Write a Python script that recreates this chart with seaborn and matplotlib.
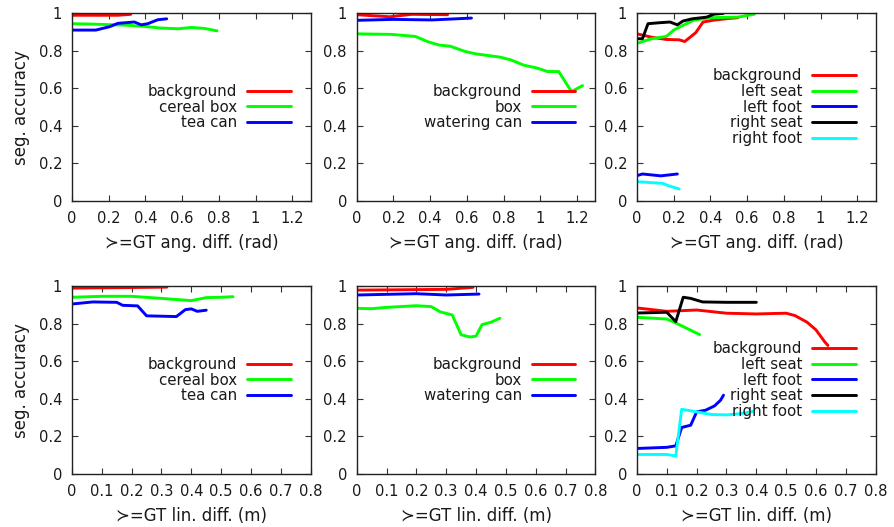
import numpy as np
import pandas as pd
import matplotlib
matplotlib.use("Agg")
import matplotlib.pyplot as plt
import seaborn as sns

# ---- angular difference (rad), object 1 ----
a1_bg_x = [0, 0.15, 0.25, 0.32]
a1_bg_y = [0.99, 0.99, 0.99, 0.995]
a1_cereal_x = [0, 0.1, 0.2, 0.3, 0.4, 0.48, 0.58, 0.65, 0.72, 0.79]
a1_cereal_y = [0.945, 0.943, 0.94, 0.937, 0.93, 0.922, 0.918, 0.925, 0.92, 0.907]
a1_tea_x = [0, 0.13, 0.205, 0.25, 0.34, 0.377, 0.413, 0.467, 0.516]
a1_tea_y = [0.911, 0.911, 0.929, 0.947, 0.954, 0.939, 0.945, 0.966, 0.971]

# ---- angular difference (rad), object 2 ----
a2_bg_x = [0, 0.18, 0.3, 0.495]
a2_bg_y = [0.993, 0.982, 0.995, 0.993]
a2_box_x = [0, 0.19, 0.32, 0.39, 0.45, 0.51, 0.59, 0.65, 0.78, 0.84, 0.91, 0.98, 1.04, 1.1, 1.17, 1.23]
a2_box_y = [0.891, 0.888, 0.877, 0.848, 0.831, 0.825, 0.797, 0.784, 0.767, 0.752, 0.724, 0.709, 0.69, 0.69, 0.583, 0.615]
a2_water_x = [0, 0.2, 0.41, 0.625]
a2_water_y = [0.963, 0.968, 0.965, 0.975]

# ---- angular difference (rad), object 3 ----
a3_bg_x = [0, 0.08, 0.16, 0.23, 0.26, 0.32, 0.36, 0.42, 0.5, 0.55]
a3_bg_y = [0.891, 0.873, 0.861, 0.859, 0.85, 0.897, 0.954, 0.964, 0.973, 0.977]
a3_lseat_x = [0, 0.08, 0.16, 0.2, 0.25, 0.31, 0.4, 0.55, 0.64]
a3_lseat_y = [0.84, 0.865, 0.877, 0.911, 0.936, 0.964, 0.977, 0.98, 0.996]
a3_lfoot_x = [0, 0.03, 0.13, 0.22]
a3_lfoot_y = [0.135, 0.144, 0.134, 0.144]
a3_rseat_x = [0, 0.03, 0.06, 0.12, 0.18, 0.22, 0.25, 0.3, 0.38, 0.42, 0.47]
a3_rseat_y = [0.865, 0.865, 0.945, 0.95, 0.954, 0.939, 0.959, 0.971, 0.98, 0.996, 1.0]
a3_rfoot_x = [0, 0.14, 0.17, 0.23]
a3_rfoot_y = [0.103, 0.094, 0.082, 0.064]

# ---- linear difference (m), object 1 ----
l1_bg_x = [0, 0.15, 0.318]
l1_bg_y = [0.991, 0.993, 0.996]
l1_cereal_x = [0, 0.1, 0.2, 0.3, 0.4, 0.45, 0.5, 0.54]
l1_cereal_y = [0.942, 0.947, 0.947, 0.936, 0.924, 0.94, 0.942, 0.945]
l1_tea_x = [0, 0.07, 0.15, 0.17, 0.22, 0.25, 0.35, 0.38, 0.4, 0.42, 0.45]
l1_tea_y = [0.906, 0.917, 0.915, 0.899, 0.896, 0.843, 0.839, 0.876, 0.88, 0.867, 0.873]

# ---- linear difference (m), object 2 ----
l2_bg_x = [0, 0.3, 0.39]
l2_bg_y = [0.98, 0.984, 0.995]
l2_box_x = [0, 0.05, 0.1, 0.2, 0.25, 0.28, 0.32, 0.35, 0.38, 0.4, 0.42, 0.45, 0.48]
l2_box_y = [0.883, 0.881, 0.888, 0.897, 0.892, 0.864, 0.848, 0.742, 0.73, 0.735, 0.796, 0.809, 0.83]
l2_water_x = [0, 0.2, 0.3, 0.41]
l2_water_y = [0.954, 0.961, 0.954, 0.959]

# ---- linear difference (m), object 3 ----
l3_bg_x = [0, 0.1, 0.2, 0.3, 0.4, 0.5, 0.53, 0.57, 0.6, 0.63, 0.64]
l3_bg_y = [0.885, 0.867, 0.874, 0.857, 0.853, 0.857, 0.844, 0.809, 0.768, 0.703, 0.685]
l3_lseat_x = [0, 0.1, 0.13, 0.21]
l3_lseat_y = [0.835, 0.826, 0.805, 0.743]
l3_lfoot_x = [0, 0.1, 0.13, 0.15, 0.18, 0.2, 0.23, 0.26, 0.28, 0.29]
l3_lfoot_y = [0.136, 0.142, 0.15, 0.248, 0.26, 0.331, 0.34, 0.363, 0.393, 0.42]
l3_rseat_x = [0, 0.1, 0.13, 0.155, 0.18, 0.22, 0.3, 0.4]
l3_rseat_y = [0.858, 0.862, 0.812, 0.942, 0.936, 0.917, 0.915, 0.915]
l3_rfoot_x = [0, 0.1, 0.13, 0.15, 0.2, 0.25, 0.3, 0.35, 0.39]
l3_rfoot_y = [0.104, 0.104, 0.096, 0.345, 0.331, 0.317, 0.315, 0.322, 0.334]

RED, GREEN, BLUE, BLACK, CYAN = "#ff0000", "#00ff00", "#0000ff", "#000000", "#00ffff"

panels = [
    [("background", a1_bg_x, a1_bg_y, RED), ("cereal box", a1_cereal_x, a1_cereal_y, GREEN),
     ("tea can", a1_tea_x, a1_tea_y, BLUE)],
    [("background", a2_bg_x, a2_bg_y, RED), ("box", a2_box_x, a2_box_y, GREEN),
     ("watering can", a2_water_x, a2_water_y, BLUE)],
    [("background", a3_bg_x, a3_bg_y, RED), ("left seat", a3_lseat_x, a3_lseat_y, GREEN),
     ("left foot", a3_lfoot_x, a3_lfoot_y, BLUE), ("right seat", a3_rseat_x, a3_rseat_y, BLACK),
     ("right foot", a3_rfoot_x, a3_rfoot_y, CYAN)],
    [("background", l1_bg_x, l1_bg_y, RED), ("cereal box", l1_cereal_x, l1_cereal_y, GREEN),
     ("tea can", l1_tea_x, l1_tea_y, BLUE)],
    [("background", l2_bg_x, l2_bg_y, RED), ("box", l2_box_x, l2_box_y, GREEN),
     ("watering can", l2_water_x, l2_water_y, BLUE)],
    [("background", l3_bg_x, l3_bg_y, RED), ("left seat", l3_lseat_x, l3_lseat_y, GREEN),
     ("left foot", l3_lfoot_x, l3_lfoot_y, BLUE), ("right seat", l3_rseat_x, l3_rseat_y, BLACK),
     ("right foot", l3_rfoot_x, l3_rfoot_y, CYAN)],
]

sns.set_theme(style="ticks")
plt.rcParams["font.family"] = ["DejaVu Sans"]
plt.rcParams["font.size"] = 10.6
txt = "#1a1a1a"
plt.rcParams.update({"text.color": txt, "axes.labelcolor": txt,
                     "xtick.labelcolor": txt, "ytick.labelcolor": txt})

fig = plt.figure(figsize=(8.94, 5.27), dpi=100)
lefts = [0.0805, 0.399, 0.7125]
bottoms = [0.6186, 0.1006]
w, h = 0.267, 0.356

for i, series in enumerate(panels):
    row, col = divmod(i, 3)
    ax = fig.add_axes([lefts[col], bottoms[row], w, h])
    for name, xs, ys, color in series:
        df = pd.DataFrame({"x": xs, "y": ys})
        sns.lineplot(data=df, x="x", y="y", ax=ax, color=color, linewidth=2.1,
                     label=name, sort=False, estimator=None)
    if row == 0:
        ax.set_xlim(0, 1.3)
        ax.set_xticks(np.arange(0, 1.21, 0.2))
        ax.set_xlabel("\u227b=GT ang. diff. (rad)", labelpad=6)
    else:
        ax.set_xlim(0, 0.8)
        ax.set_xticks(np.arange(0, 0.81, 0.1))
        ax.set_xlabel("\u227b=GT lin. diff. (m)", labelpad=6)
    ax.set_ylim(0, 1)
    ax.set_yticks(np.arange(0, 1.01, 0.2))
    ax.xaxis.set_major_formatter(plt.FuncFormatter(lambda v, p: f"{v:g}"))
    ax.yaxis.set_major_formatter(plt.FuncFormatter(lambda v, p: f"{v:g}"))
    ax.tick_params(direction="in", length=4, width=0.8, top=True, right=True,
                   labelsize=10.6, pad=7, color="#333333")
    ax.set_ylabel("seg. accuracy" if col == 0 else "", labelpad=6)
    for s in ax.spines.values():
        s.set_visible(True)
        s.set_linewidth(1.0)
        s.set_color("#222222")
    ax.legend(loc="center right", bbox_to_anchor=(0.916, 0.5), frameon=False,
              markerfirst=False, handlelength=2.9, handletextpad=0.65,
              labelspacing=0.05, borderpad=0, borderaxespad=0, fontsize=10.8)

fig.savefig("out.png", dpi=100)
